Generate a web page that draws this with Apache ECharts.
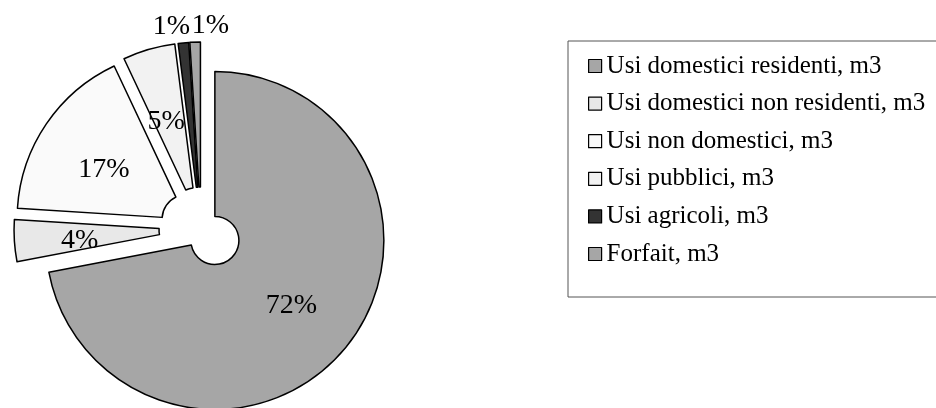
<!DOCTYPE html>
<html>
<head>
<meta charset="utf-8">
<style>
  html, body { margin: 0; padding: 0; background: #fff; }
  #chart { width: 936px; height: 408px; }
</style>
<script src="https://cdn.jsdelivr.net/npm/echarts@6/dist/echarts.min.js"></script>
</head>
<body>
<div id="chart"></div>
<script>
// Water consumption by use category (share of m3)
const categories = [
  'Usi domestici residenti, m3',
  'Usi domestici non residenti, m3',
  'Usi non domestici, m3',
  'Usi pubblici, m3',
  'Usi agricoli, m3',
  'Forfait, m3'
];
const shares = [72, 4, 17, 5, 1, 1];

// fill greys per category
const fills = ['#a6a6a6', '#e8e8e8', '#fafafa', '#f2f2f2', '#333333', '#a6a6a6'];
// small slices carry their label outside the ring
const outsideLabel = [false, false, false, false, true, true];
// label nudges [dx, dy] per slice
const labelNudge = [[0, 2], [-4, 4], [0, 7], [-2, 5], [12, -12], [39, -12]];

const serif = 'Liberation Serif, Times New Roman, serif';

const data = categories.map((name, i) => ({
  name: name,
  value: shares[i],
  selected: true,
  itemStyle: { color: fills[i] },
  label: outsideLabel[i]
    ? { position: 'outside' }
    : { position: 'inside' },
  labelLine: { show: false, length: 4, length2: 0 }
}));

const chart = echarts.init(document.getElementById('chart'), null, { renderer: 'canvas' });

chart.setOption({
  animation: false,
  backgroundColor: '#ffffff',
  legend: {
    orient: 'vertical',
    left: 568,
    top: 41,
    padding: [12, 20, 30, 20],
    itemGap: 11.6,
    itemWidth: 13,
    itemHeight: 13,
    icon: 'rect',
    selectedMode: false,
    borderColor: '#555',
    borderWidth: 1,
    borderRadius: 0,
    itemStyle: { borderColor: '#000', borderWidth: 1.2 },
    textStyle: {
      fontFamily: serif,
      fontSize: 25,
      lineHeight: 26,
      color: '#000'
    },
    data: categories
  },
  series: [{
    type: 'pie',
    center: [201, 229],
    radius: [24, 169],
    startAngle: 90,
    clockwise: true,
    selectedMode: 'multiple',
    selectedOffset: 18,
    avoidLabelOverlap: false,
    emphasis: { disabled: true, scale: false },
    select: {
      itemStyle: { borderColor: '#000', borderWidth: 1.5 }
    },
    itemStyle: { borderColor: '#000', borderWidth: 1.5 },
    label: {
      show: true,
      formatter: '{d}%',
      fontFamily: serif,
      fontSize: 28,
      color: '#000'
    },
    labelLine: { show: false },
    labelLayout: function (p) {
      const n = labelNudge[p.dataIndex];
      return { dx: n[0], dy: n[1] };
    },
    data: data
  }]
});
</script>
</body>
</html>
